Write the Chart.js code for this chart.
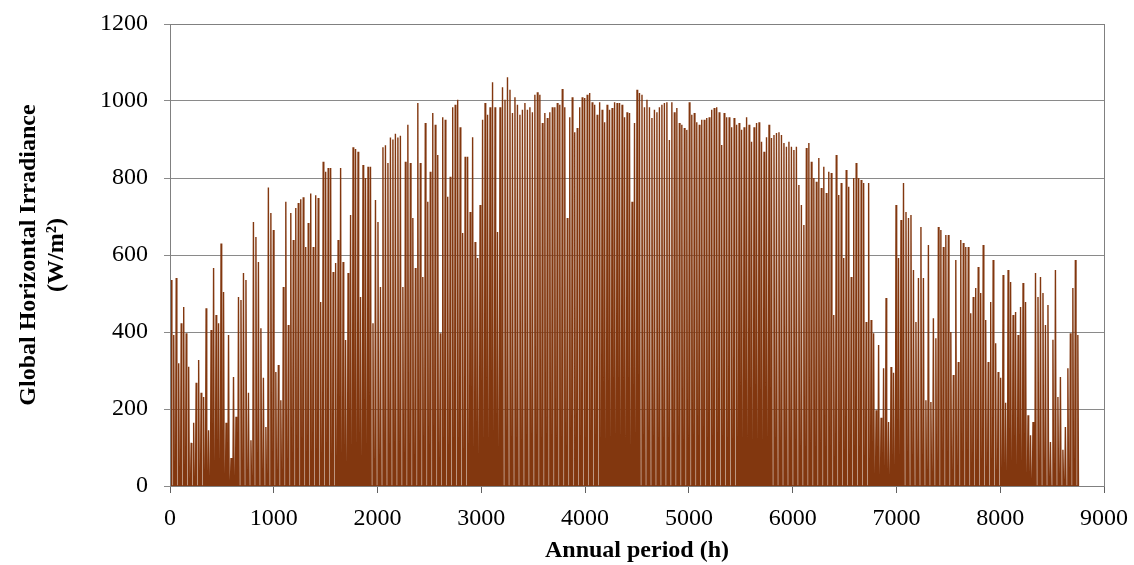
<!DOCTYPE html>
<html>
<head>
<meta charset="utf-8">
<script src="https://cdn.jsdelivr.net/npm/chart.js@4.4.1/dist/chart.umd.min.js"></script>
<style>
  html, body { margin: 0; padding: 0; background: #fff; }
  #wrap { width: 1134px; height: 565px; position: relative; }
</style>
</head>
<body>
<div id="wrap"><canvas id="ghiChart"></canvas></div>
<script>
// daily peak of global horizontal irradiance (W/m²), day 1..365
const dailyPeaks = [
  535, 392, 540, 319, 423, 465, 397, 310, 112, 164, 268, 327, 242, 231, 462, 145, 405, 566, 444, 423,
  630, 504, 164, 392, 73, 283, 180, 491, 483, 553,
  535, 242, 119, 686, 647, 582, 410, 281, 153, 775, 709, 665, 296, 314, 223, 517, 738, 418, 709, 639,
  722, 735, 745, 750, 621, 683, 760, 621, 755, 748, 478,
  842, 816, 826, 826, 556, 579, 639, 826, 582, 379, 553, 704, 880, 875, 868, 491, 834, 800, 829, 829,
  423, 743, 686, 517, 880, 885, 839, 905, 900, 915, 905, 910,
  517, 842, 938, 839, 696, 566, 995, 839, 543, 943, 738, 816, 969, 938, 860, 397, 958, 951, 751, 803,
  984, 990, 1003, 932, 657, 855, 855, 712, 906, 634, 592,
  730, 951, 995, 964, 984, 1049, 984, 660, 984, 1036, 1003, 1062, 1029, 969, 1010, 990, 964, 977, 995, 977,
  984, 971, 1016, 1023, 1016, 943, 969, 956, 971, 984, 984,
  995, 990, 1031, 984, 696, 958, 1010, 919, 930, 984, 1010, 1008, 1016, 1021, 997, 990, 964, 997, 977, 945,
  990, 977, 982, 997, 995, 995, 990, 958, 971, 969, 738, 943,
  1029, 1021, 1016, 984, 1003, 984, 956, 977, 971, 984, 990, 995, 997, 899, 997, 971, 982, 943, 938, 930,
  925, 997, 964, 969, 945, 938, 951, 951, 956, 958, 977,
  982, 984, 971, 886, 969, 958, 958, 932, 956, 938, 943, 925, 932, 958, 938, 894, 932, 943, 945, 894,
  868, 906, 938, 904, 912, 917, 919, 912, 891, 881, 894,
  881, 873, 881, 782, 730, 678, 878, 891, 842, 800, 790, 852, 774, 829, 761, 816, 813, 444, 860, 756,
  787, 592, 821, 777, 543, 800, 839, 800, 795, 787, 426,
  787, 431, 397, 197, 366, 177, 306, 488, 166, 309, 294, 730, 592, 691, 787, 712, 696, 704, 561, 426,
  540, 673, 540, 223, 626, 218, 436, 384, 673, 665, 621,
  652, 652, 400, 288, 587, 322, 639, 631, 621, 621, 449, 491, 514, 569, 501, 626, 431, 322, 478, 587,
  371, 296, 281, 548, 216, 561, 530, 444, 452, 392, 465, 527,
  478, 184, 132, 166, 553, 491, 543, 501, 418, 470, 114, 380, 561, 231, 283, 94, 153, 306, 397, 514,
  587, 392
];

// each day: dark at dawn, peak at noon, dark at dusk (hours of the day)
const sunriseHour = 6;
const noonHour = 12;
const sunsetHour = 18;

const xTicks = [0, 1000, 2000, 3000, 4000, 5000, 6000, 7000, 8000, 9000];
const yTicks = [0, 200, 400, 600, 800, 1000, 1200];

const points = [];
dailyPeaks.forEach((peak, day) => {
  points.push({ x: day * 24 + sunriseHour, y: 0 });
  points.push({ x: day * 24 + noonHour, y: peak });
  points.push({ x: day * 24 + sunsetHour, y: 0 });
});

const serif = "'Liberation Serif', 'Times New Roman', serif";

const frame = {
  id: 'frame',
  afterDraw(chart) {
    const { ctx, chartArea: a } = chart;
    ctx.save();
    ctx.strokeStyle = '#808080';
    ctx.lineWidth = 1;
    ctx.strokeRect(a.left + 0.5, a.top + 0.5, a.right - a.left, a.bottom - a.top);
    ctx.restore();
  }
};

new Chart(document.getElementById('ghiChart'), {
  type: 'line',
  data: {
    datasets: [{
      data: points,
      borderColor: 'rgb(130, 55, 15)',
      backgroundColor: 'rgba(150, 70, 25, 0.92)',
      borderWidth: 1.4,
      fill: 'origin',
      pointRadius: 0,
      tension: 0,
    }],
  },
  plugins: [frame],
  options: {
    responsive: true,
    maintainAspectRatio: false,
    animation: false,
    layout: { padding: { top: 24, right: 30, left: 0, bottom: 0 } },
    plugins: { legend: { display: false }, tooltip: { enabled: false } },
    scales: {
      x: {
        type: 'linear',
        min: 0,
        max: 9000,
        afterBuildTicks: (s) => { s.ticks = xTicks.map((v) => ({ value: v })); },
        afterFit: (s) => { s.height = 79; s.paddingLeft = 0; s.paddingRight = 0; },
        ticks: { color: '#000', font: { family: serif, size: 24 }, maxRotation: 0, padding: 11, callback: (v) => String(v) },
        grid: { drawOnChartArea: false, drawTicks: true, tickLength: 7, color: '#606060' },
        border: { color: '#404040', width: 1 },
        title: {
          display: true,
          text: 'Annual period (h)',
          color: '#000',
          font: { family: serif, size: 24, weight: 'bold' },
          padding: { top: 0, bottom: 0 },
        },
      },
      y: {
        min: 0,
        max: 1200,
        afterBuildTicks: (s) => { s.ticks = yTicks.map((v) => ({ value: v })); },
        afterFit: (s) => { s.width = 170; s.paddingTop = 0; s.paddingBottom = 0; },
        ticks: { color: '#000', font: { family: serif, size: 24 }, padding: 16, callback: (v) => String(v) },
        grid: { color: '#8a8a8a', lineWidth: 1, drawTicks: true, tickLength: 6 },
        border: { color: '#606060', width: 1 },
        title: {
          display: true,
          text: ['Global Horizontal Irradiance', '(W/m²)'],
          color: '#000',
          font: { family: serif, size: 24, weight: 'bold', lineHeight: 1.2 },
          padding: { top: 14, bottom: 0 },
        },
      },
    },
  },
});
</script>
</body>
</html>
